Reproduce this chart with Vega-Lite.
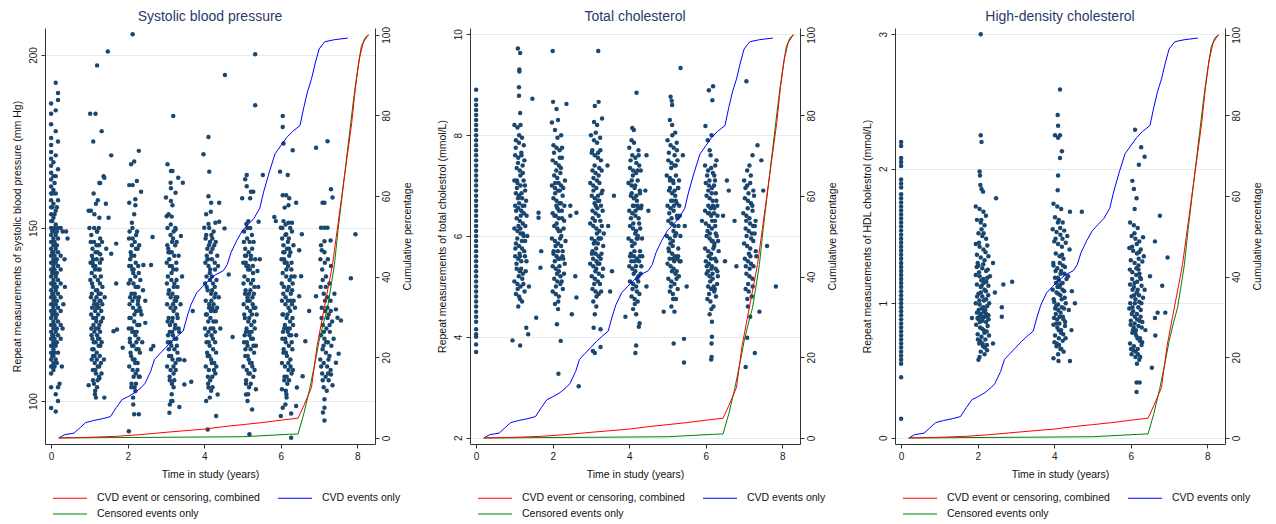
{
"$schema": "https://vega.github.io/schema/vega-lite/v6.json",
"background": "white",
"padding": {"left": 12, "top": 9, "right": 0, "bottom": 0},
"spacing": 24,
"config": {
 "font": "Liberation Sans",
 "view": {"stroke": null},
 "axis": {"labelFont": "Liberation Sans", "titleFont": "Liberation Sans", "labelFontSize": 10, "titleFontSize": 10.5, "titleFontWeight": "normal", "labelColor": "#1a1a1a", "titleColor": "#111111", "domainColor": "#333333", "tickColor": "#333333", "tickSize": 4, "grid": false, "labelFlush": false, "labelOverlap": false},
 "title": {"font": "Liberation Sans", "fontSize": 14, "fontWeight": "normal", "color": "#2b3a6b", "offset": 3, "frame": "group", "anchor": "middle"},
 "legend": {"orient": "none", "legendX": 19, "legendY": 464, "direction": "horizontal", "columns": 2, "title": null, "symbolType": "M-3.4,0H3.4", "symbolSize": 100, "symbolStrokeWidth": 1.2, "symbolFillColor": "transparent", "labelOffset": 21, "columnPadding": 15, "rowPadding": 4, "labelFontSize": 10.5, "labelFont": "Liberation Sans", "labelColor": "#111111", "padding": 0, "labelLimit": 400}
},
"datasets": {
"curves": [
{"s":"CVD events only","t":0.2,"p":0},{"s":"CVD events only","t":0.35,"p":0.8},{"s":"CVD events only","t":0.6,"p":1.2},{"s":"CVD events only","t":0.75,"p":2.5},{"s":"CVD events only","t":0.9,"p":3.8},{"s":"CVD events only","t":1.1,"p":4.3},{"s":"CVD events only","t":1.35,"p":4.8},{"s":"CVD events only","t":1.55,"p":5.3},{"s":"CVD events only","t":1.7,"p":7.5},{"s":"CVD events only","t":1.85,"p":9.5},{"s":"CVD events only","t":2.0,"p":10.2},{"s":"CVD events only","t":2.2,"p":11.3},{"s":"CVD events only","t":2.35,"p":12.5},{"s":"CVD events only","t":2.45,"p":13.5},{"s":"CVD events only","t":2.6,"p":16.5},{"s":"CVD events only","t":2.7,"p":19.5},{"s":"CVD events only","t":2.85,"p":21},{"s":"CVD events only","t":3.0,"p":22.5},{"s":"CVD events only","t":3.15,"p":24},{"s":"CVD events only","t":3.3,"p":25.3},{"s":"CVD events only","t":3.45,"p":26.5},{"s":"CVD events only","t":3.55,"p":30},{"s":"CVD events only","t":3.65,"p":33},{"s":"CVD events only","t":3.8,"p":36},{"s":"CVD events only","t":3.95,"p":37.5},{"s":"CVD events only","t":4.1,"p":39},{"s":"CVD events only","t":4.3,"p":40.5},{"s":"CVD events only","t":4.5,"p":41.5},{"s":"CVD events only","t":4.6,"p":43},{"s":"CVD events only","t":4.7,"p":46},{"s":"CVD events only","t":4.85,"p":49},{"s":"CVD events only","t":5.0,"p":51.5},{"s":"CVD events only","t":5.15,"p":53},{"s":"CVD events only","t":5.3,"p":54.5},{"s":"CVD events only","t":5.45,"p":57},{"s":"CVD events only","t":5.55,"p":61},{"s":"CVD events only","t":5.7,"p":66},{"s":"CVD events only","t":5.85,"p":70.5},{"s":"CVD events only","t":6.0,"p":72.5},{"s":"CVD events only","t":6.15,"p":74.5},{"s":"CVD events only","t":6.3,"p":76},{"s":"CVD events only","t":6.5,"p":77.5},{"s":"CVD events only","t":6.6,"p":82},{"s":"CVD events only","t":6.7,"p":86},{"s":"CVD events only","t":6.8,"p":89},{"s":"CVD events only","t":6.9,"p":93},{"s":"CVD events only","t":7.0,"p":96.5},{"s":"CVD events only","t":7.15,"p":98.3},{"s":"CVD events only","t":7.4,"p":98.8},{"s":"CVD events only","t":7.75,"p":99.2},
{"s":"Censored events only","t":0.2,"p":0},{"s":"Censored events only","t":3.5,"p":0.2},{"s":"Censored events only","t":5.0,"p":0.3},{"s":"Censored events only","t":6.2,"p":0.9},{"s":"Censored events only","t":6.45,"p":1.0},{"s":"Censored events only","t":6.6,"p":6},{"s":"Censored events only","t":6.75,"p":12},{"s":"Censored events only","t":6.9,"p":19},{"s":"Censored events only","t":7.0,"p":24},{"s":"Censored events only","t":7.1,"p":28},{"s":"Censored events only","t":7.22,"p":32.3},{"s":"Censored events only","t":7.3,"p":37},{"s":"Censored events only","t":7.4,"p":43},{"s":"Censored events only","t":7.5,"p":52},{"s":"Censored events only","t":7.6,"p":60},{"s":"Censored events only","t":7.7,"p":68},{"s":"Censored events only","t":7.8,"p":76},{"s":"Censored events only","t":7.9,"p":84},{"s":"Censored events only","t":8.0,"p":91},{"s":"Censored events only","t":8.1,"p":97},{"s":"Censored events only","t":8.2,"p":99.3},{"s":"Censored events only","t":8.3,"p":100},
{"s":"CVD event or censoring, combined","t":0.2,"p":0},{"s":"CVD event or censoring, combined","t":0.85,"p":0.1},{"s":"CVD event or censoring, combined","t":1.7,"p":0.4},{"s":"CVD event or censoring, combined","t":2.3,"p":0.8},{"s":"CVD event or censoring, combined","t":3.0,"p":1.4},{"s":"CVD event or censoring, combined","t":3.5,"p":1.8},{"s":"CVD event or censoring, combined","t":4.0,"p":2.2},{"s":"CVD event or censoring, combined","t":4.5,"p":2.8},{"s":"CVD event or censoring, combined","t":5.0,"p":3.3},{"s":"CVD event or censoring, combined","t":5.5,"p":3.8},{"s":"CVD event or censoring, combined","t":6.0,"p":4.4},{"s":"CVD event or censoring, combined","t":6.45,"p":4.9},{"s":"CVD event or censoring, combined","t":6.6,"p":8},{"s":"CVD event or censoring, combined","t":6.8,"p":12.5},{"s":"CVD event or censoring, combined","t":6.95,"p":23},{"s":"CVD event or censoring, combined","t":7.05,"p":28},{"s":"CVD event or censoring, combined","t":7.15,"p":33},{"s":"CVD event or censoring, combined","t":7.25,"p":38},{"s":"CVD event or censoring, combined","t":7.35,"p":43},{"s":"CVD event or censoring, combined","t":7.45,"p":50},{"s":"CVD event or censoring, combined","t":7.55,"p":57},{"s":"CVD event or censoring, combined","t":7.65,"p":64},{"s":"CVD event or censoring, combined","t":7.75,"p":71},{"s":"CVD event or censoring, combined","t":7.85,"p":78},{"s":"CVD event or censoring, combined","t":7.95,"p":87},{"s":"CVD event or censoring, combined","t":8.05,"p":94},{"s":"CVD event or censoring, combined","t":8.15,"p":98},{"s":"CVD event or censoring, combined","t":8.28,"p":100}
],
"sbp": [
{"t":0,"v":98},{"t":0,"v":104},{"t":0,"v":108},{"t":0,"v":110},{"t":0,"v":112},{"t":0,"v":114},{"t":0,"v":116},{"t":0,"v":118},{"t":0,"v":120},{"t":0,"v":122},{"t":0,"v":124},{"t":0,"v":126},{"t":0,"v":128},{"t":0,"v":130},{"t":0,"v":132},{"t":0,"v":134},{"t":0,"v":136},{"t":0,"v":138},{"t":0,"v":140},{"t":0,"v":142},{"t":0,"v":144},{"t":0,"v":146},{"t":0,"v":148},{"t":0,"v":150},{"t":0,"v":152},{"t":0,"v":154},{"t":0,"v":156},{"t":0,"v":158},{"t":0,"v":160},{"t":0,"v":162},{"t":0,"v":164},{"t":0,"v":166},{"t":0,"v":168},{"t":0,"v":170},{"t":0,"v":172},{"t":0,"v":174},{"t":0,"v":176},{"t":0,"v":180},{"t":0,"v":183},{"t":0,"v":186},
{"t":0.03,"v":110},{"t":0.03,"v":113},{"t":0.03,"v":116},{"t":0.03,"v":119},{"t":0.03,"v":122},{"t":0.03,"v":125},{"t":0.03,"v":128},{"t":0.03,"v":131},{"t":0.03,"v":134},{"t":0.03,"v":137},{"t":0.03,"v":140},{"t":0.03,"v":143},{"t":0.03,"v":146},{"t":0.03,"v":149},{"t":0.03,"v":152},{"t":0.03,"v":156},{"t":0.03,"v":160},
{"t":0.06,"v":109},{"t":0.06,"v":111},{"t":0.06,"v":113},{"t":0.06,"v":115},{"t":0.06,"v":117},{"t":0.06,"v":119},{"t":0.06,"v":121},{"t":0.06,"v":123},{"t":0.06,"v":125},{"t":0.06,"v":127},{"t":0.06,"v":129},{"t":0.06,"v":131},{"t":0.06,"v":133},{"t":0.06,"v":135},{"t":0.06,"v":137},{"t":0.06,"v":139},{"t":0.06,"v":141},{"t":0.06,"v":143},{"t":0.06,"v":145},{"t":0.06,"v":147},{"t":0.06,"v":149},{"t":0.06,"v":153},{"t":0.06,"v":157},{"t":0.06,"v":161},{"t":0.06,"v":165},{"t":0.06,"v":169},
{"t":0.09,"v":110},{"t":0.09,"v":114},{"t":0.09,"v":118},{"t":0.09,"v":122},{"t":0.09,"v":126},{"t":0.09,"v":130},{"t":0.09,"v":134},{"t":0.09,"v":138},{"t":0.09,"v":142},{"t":0.09,"v":146},{"t":0.09,"v":150},{"t":0.09,"v":154},{"t":0.09,"v":163},
{"t":0.12,"v":97},{"t":0.12,"v":102},{"t":0.12,"v":112},{"t":0.12,"v":116},{"t":0.12,"v":120},{"t":0.12,"v":124},{"t":0.12,"v":128},{"t":0.12,"v":132},{"t":0.12,"v":136},{"t":0.12,"v":140},{"t":0.12,"v":144},{"t":0.12,"v":148},{"t":0.12,"v":151},{"t":0.12,"v":155},{"t":0.12,"v":160},{"t":0.12,"v":165},{"t":0.12,"v":171},{"t":0.12,"v":178},{"t":0.12,"v":184},{"t":0.12,"v":192},
{"t":0.15,"v":111},{"t":0.15,"v":117},{"t":0.15,"v":121},{"t":0.15,"v":125},{"t":0.15,"v":129},{"t":0.15,"v":133},{"t":0.15,"v":137},{"t":0.15,"v":141},{"t":0.15,"v":145},{"t":0.15,"v":149},{"t":0.15,"v":156},
{"t":0.18,"v":100},{"t":0.18,"v":104},{"t":0.18,"v":114},{"t":0.18,"v":119},{"t":0.18,"v":123},{"t":0.18,"v":127},{"t":0.18,"v":131},{"t":0.18,"v":135},{"t":0.18,"v":139},{"t":0.18,"v":143},{"t":0.18,"v":147},{"t":0.18,"v":150},{"t":0.18,"v":158},{"t":0.18,"v":167},{"t":0.18,"v":175},{"t":0.18,"v":187},{"t":0.18,"v":189},
{"t":0.25,"v":118},{"t":0.25,"v":122},{"t":0.25,"v":126},{"t":0.25,"v":130},{"t":0.25,"v":134},{"t":0.25,"v":138},{"t":0.25,"v":142},{"t":0.25,"v":150},
{"t":0.3,"v":149},{"t":0.35,"v":141},{"t":0.39,"v":149},{"t":0.43,"v":147},{"t":0.32,"v":128},{"t":0.28,"v":110},{"t":0.22,"v":105},{"t":0.3,"v":121},{"t":0.36,"v":133},
{"t":1.05,"v":148},{"t":1.12,"v":146},{"t":1.2,"v":149},{"t":1.28,"v":147},{"t":1.08,"v":144},{"t":1.16,"v":143},{"t":1.25,"v":145},{"t":1.32,"v":141},{"t":1.03,"v":140},{"t":1.1,"v":139},{"t":1.19,"v":141},{"t":1.27,"v":138},{"t":1.06,"v":137},{"t":1.14,"v":136},{"t":1.22,"v":135},{"t":1.3,"v":136},{"t":1.09,"v":133},{"t":1.17,"v":132},{"t":1.24,"v":131},{"t":1.34,"v":133},{"t":1.04,"v":130},{"t":1.13,"v":129},{"t":1.21,"v":128},{"t":1.29,"v":129},{"t":1.07,"v":127},{"t":1.15,"v":126},{"t":1.23,"v":125},{"t":1.31,"v":126},{"t":1.1,"v":124},{"t":1.18,"v":123},{"t":1.26,"v":122},{"t":1.05,"v":121},{"t":1.13,"v":120},{"t":1.2,"v":119},{"t":1.28,"v":120},{"t":1.08,"v":118},{"t":1.16,"v":117},{"t":1.24,"v":116},{"t":1.32,"v":117},{"t":1.11,"v":115},{"t":1.19,"v":114},{"t":1.27,"v":113},{"t":1.06,"v":112},{"t":1.14,"v":111},{"t":1.22,"v":110},{"t":1.3,"v":111},{"t":1.09,"v":109},{"t":1.17,"v":108},{"t":1.25,"v":107},{"t":1.12,"v":105},{"t":1.2,"v":104},{"t":1.15,"v":103},{"t":1.1,"v":113},{"t":1.18,"v":127},{"t":1.23,"v":138},{"t":1.07,"v":134},{"t":1.26,"v":118},{"t":1.35,"v":124},{"t":1.4,"v":130},{"t":1.38,"v":112},
{"t":1.035,"v":146},{"t":1.095,"v":141},{"t":1.155,"v":139},{"t":1.215,"v":143},{"t":1.275,"v":134},{"t":1.065,"v":131},{"t":1.125,"v":128},{"t":1.185,"v":130},{"t":1.245,"v":127},{"t":1.305,"v":123},{"t":1.045,"v":125},{"t":1.105,"v":122},{"t":1.165,"v":121},{"t":1.225,"v":118},{"t":1.285,"v":116},{"t":1.075,"v":115},{"t":1.135,"v":113},{"t":1.195,"v":112},{"t":1.255,"v":110},{"t":1.315,"v":108},{"t":1.055,"v":119},{"t":1.115,"v":117},{"t":1.175,"v":124},{"t":1.235,"v":121},{"t":1.295,"v":131},{"t":1.085,"v":140},{"t":1.145,"v":138},{"t":1.205,"v":132},{"t":1.265,"v":129},{"t":1.025,"v":135},{"t":1.335,"v":128},{"t":1.095,"v":106},{"t":1.155,"v":109},{"t":1.215,"v":106},{"t":1.185,"v":145},{"t":1.125,"v":150},{"t":1.245,"v":150},{"t":1.065,"v":142},{"t":1.275,"v":140},{"t":1.145,"v":102},
{"t":1.2,"v":197},{"t":1.48,"v":201},{"t":1.02,"v":183},{"t":1.16,"v":183},{"t":1.32,"v":178},{"t":1.1,"v":175},{"t":1.57,"v":171},{"t":1.39,"v":164.5},{"t":1.26,"v":163},{"t":1.04,"v":155},{"t":0.98,"v":155},{"t":1.11,"v":160},{"t":1.28,"v":163},{"t":1.37,"v":165},{"t":1.22,"v":158},{"t":1.43,"v":157},{"t":1.17,"v":157},{"t":1.13,"v":154},{"t":1.26,"v":153},{"t":1.5,"v":153},{"t":1.0,"v":150},{"t":1.7,"v":145.5},{"t":1.57,"v":142.6},{"t":1.28,"v":142.4},{"t":1.44,"v":144},{"t":1.2,"v":149},{"t":1.33,"v":146},{"t":1.17,"v":101},{"t":1.39,"v":101},{"t":0.98,"v":104.6},{"t":1.26,"v":106.6},{"t":1.72,"v":120.7},{"t":1.63,"v":120.2},{"t":1.7,"v":134},
{"t":2.05,"v":149},{"t":2.13,"v":147},{"t":2.22,"v":148},{"t":2.3,"v":145},{"t":2.08,"v":143},{"t":2.17,"v":142},{"t":2.26,"v":144},{"t":2.04,"v":139},{"t":2.12,"v":138},{"t":2.21,"v":140},{"t":2.29,"v":137},{"t":2.07,"v":135},{"t":2.15,"v":134},{"t":2.24,"v":133},{"t":2.33,"v":135},{"t":2.1,"v":131},{"t":2.19,"v":130},{"t":2.27,"v":129},{"t":2.05,"v":128},{"t":2.14,"v":127},{"t":2.22,"v":126},{"t":2.31,"v":127},{"t":2.08,"v":124},{"t":2.17,"v":123},{"t":2.25,"v":122},{"t":2.03,"v":121},{"t":2.12,"v":120},{"t":2.2,"v":119},{"t":2.28,"v":118},{"t":2.06,"v":117},{"t":2.15,"v":116},{"t":2.23,"v":115},{"t":2.32,"v":114},{"t":2.09,"v":113},{"t":2.18,"v":112},{"t":2.26,"v":111},{"t":2.04,"v":110},{"t":2.13,"v":109},{"t":2.21,"v":108},{"t":2.29,"v":107},{"t":2.1,"v":105},{"t":2.18,"v":104},{"t":2.14,"v":101},{"t":2.36,"v":125},{"t":2.4,"v":132},{"t":2.38,"v":117},{"t":2.2,"v":136},{"t":2.11,"v":145},
{"t":2.035,"v":147},{"t":2.095,"v":142},{"t":2.155,"v":138},{"t":2.215,"v":144},{"t":2.275,"v":133},{"t":2.065,"v":130},{"t":2.125,"v":129},{"t":2.185,"v":131},{"t":2.245,"v":126},{"t":2.305,"v":122},{"t":2.045,"v":124},{"t":2.105,"v":121},{"t":2.165,"v":120},{"t":2.225,"v":117},{"t":2.285,"v":115},{"t":2.075,"v":114},{"t":2.135,"v":112},{"t":2.195,"v":111},{"t":2.255,"v":109},{"t":2.315,"v":107},{"t":2.055,"v":118},{"t":2.115,"v":116},{"t":2.175,"v":125},{"t":2.235,"v":120},{"t":2.295,"v":130},{"t":2.085,"v":139},{"t":2.145,"v":137},{"t":2.205,"v":133},{"t":2.265,"v":128},{"t":2.025,"v":134},{"t":2.335,"v":126},{"t":2.095,"v":104},{"t":2.155,"v":107},{"t":2.215,"v":105},{"t":2.185,"v":146},{"t":2.125,"v":150},{"t":2.245,"v":149},{"t":2.065,"v":141},{"t":2.275,"v":139},{"t":2.145,"v":99},
{"t":2.13,"v":206},{"t":2.29,"v":172.3},{"t":2.17,"v":169.2},{"t":2.09,"v":168.4},{"t":2.24,"v":163.6},{"t":2.04,"v":162.4},{"t":2.13,"v":162.4},{"t":2.35,"v":160.5},{"t":2.2,"v":158.3},{"t":2.04,"v":157.3},{"t":2.2,"v":156.6},{"t":2.17,"v":154},{"t":2.11,"v":151.5},{"t":2.65,"v":147.4},{"t":2.03,"v":91.3},{"t":2.17,"v":96.2},{"t":2.29,"v":96.2},{"t":2.2,"v":102.9},{"t":2.41,"v":139.3},{"t":2.61,"v":139.3},{"t":1.87,"v":115.4},{"t":2.61,"v":115},{"t":2.46,"v":129},{"t":2.46,"v":122.6},
{"t":3.04,"v":150},{"t":3.12,"v":148},{"t":3.2,"v":149},{"t":3.28,"v":146},{"t":3.06,"v":144},{"t":3.15,"v":143},{"t":3.24,"v":145},{"t":3.33,"v":142},{"t":3.02,"v":140},{"t":3.1,"v":139},{"t":3.19,"v":138},{"t":3.27,"v":140},{"t":3.05,"v":136},{"t":3.14,"v":135},{"t":3.22,"v":134},{"t":3.3,"v":133},{"t":3.08,"v":132},{"t":3.17,"v":131},{"t":3.25,"v":130},{"t":3.03,"v":128},{"t":3.12,"v":127},{"t":3.2,"v":126},{"t":3.29,"v":125},{"t":3.07,"v":124},{"t":3.16,"v":123},{"t":3.24,"v":122},{"t":3.33,"v":121},{"t":3.1,"v":120},{"t":3.18,"v":119},{"t":3.27,"v":118},{"t":3.05,"v":117},{"t":3.14,"v":116},{"t":3.22,"v":115},{"t":3.3,"v":114},{"t":3.08,"v":113},{"t":3.17,"v":112},{"t":3.25,"v":111},{"t":3.03,"v":110},{"t":3.12,"v":109},{"t":3.2,"v":108},{"t":3.1,"v":106},{"t":3.2,"v":104},{"t":3.15,"v":102},{"t":3.38,"v":128},{"t":3.42,"v":136},{"t":3.36,"v":112},{"t":3.16,"v":146},{"t":3.23,"v":129},
{"t":3.035,"v":145},{"t":3.095,"v":143},{"t":3.155,"v":139},{"t":3.215,"v":142},{"t":3.275,"v":135},{"t":3.065,"v":131},{"t":3.125,"v":130},{"t":3.185,"v":128},{"t":3.245,"v":127},{"t":3.305,"v":124},{"t":3.045,"v":123},{"t":3.105,"v":122},{"t":3.165,"v":120},{"t":3.225,"v":118},{"t":3.285,"v":116},{"t":3.075,"v":115},{"t":3.135,"v":113},{"t":3.195,"v":110},{"t":3.255,"v":109},{"t":3.315,"v":112},{"t":3.055,"v":119},{"t":3.115,"v":117},{"t":3.175,"v":124},{"t":3.235,"v":121},{"t":3.295,"v":130},{"t":3.085,"v":141},{"t":3.145,"v":137},{"t":3.205,"v":133},{"t":3.265,"v":129},{"t":3.025,"v":134},{"t":3.345,"v":120},{"t":3.095,"v":107},{"t":3.155,"v":105},{"t":3.215,"v":106},{"t":3.185,"v":147},{"t":3.125,"v":151},{"t":3.245,"v":150},{"t":3.065,"v":143},{"t":3.275,"v":138},{"t":3.135,"v":100},
{"t":3.19,"v":182.4},{"t":3.04,"v":168.4},{"t":3.13,"v":166.5},{"t":3.17,"v":166.5},{"t":3.44,"v":163.1},{"t":3.32,"v":164.5},{"t":3.12,"v":163.1},{"t":3.13,"v":161.5},{"t":3.25,"v":160.2},{"t":3.0,"v":158.8},{"t":3.13,"v":157.8},{"t":3.17,"v":156.6},{"t":3.07,"v":154},{"t":3.02,"v":153.4},{"t":3.15,"v":153.3},{"t":3.39,"v":147.7},{"t":3.25,"v":149.6},{"t":3.09,"v":96.6},{"t":3.1,"v":99},{"t":3.35,"v":98.3},{"t":3.17,"v":100},{"t":3.66,"v":105.6},{"t":3.48,"v":104.8},{"t":3.7,"v":126},{"t":3.48,"v":111.8},{"t":2.67,"v":115.9},
{"t":4.05,"v":148},{"t":4.13,"v":150},{"t":4.21,"v":147},{"t":4.3,"v":146},{"t":4.08,"v":144},{"t":4.17,"v":143},{"t":4.26,"v":145},{"t":4.34,"v":142},{"t":4.03,"v":140},{"t":4.11,"v":139},{"t":4.2,"v":141},{"t":4.28,"v":138},{"t":4.06,"v":136},{"t":4.15,"v":135},{"t":4.23,"v":134},{"t":4.32,"v":135},{"t":4.09,"v":132},{"t":4.18,"v":131},{"t":4.27,"v":130},{"t":4.04,"v":129},{"t":4.13,"v":128},{"t":4.21,"v":127},{"t":4.3,"v":126},{"t":4.07,"v":125},{"t":4.16,"v":124},{"t":4.24,"v":123},{"t":4.02,"v":121},{"t":4.11,"v":120},{"t":4.19,"v":119},{"t":4.28,"v":120},{"t":4.06,"v":117},{"t":4.14,"v":116},{"t":4.23,"v":115},{"t":4.31,"v":114},{"t":4.09,"v":113},{"t":4.18,"v":112},{"t":4.26,"v":111},{"t":4.04,"v":110},{"t":4.12,"v":109},{"t":4.21,"v":107},{"t":4.29,"v":108},{"t":4.1,"v":105},{"t":4.18,"v":103},{"t":4.38,"v":130},{"t":4.42,"v":121},{"t":4.36,"v":139},{"t":4.2,"v":136},{"t":4.15,"v":146},
{"t":4.035,"v":147},{"t":4.095,"v":141},{"t":4.155,"v":138},{"t":4.215,"v":144},{"t":4.275,"v":133},{"t":4.065,"v":133},{"t":4.125,"v":127},{"t":4.185,"v":129},{"t":4.245,"v":128},{"t":4.305,"v":123},{"t":4.045,"v":125},{"t":4.105,"v":123},{"t":4.165,"v":121},{"t":4.225,"v":118},{"t":4.285,"v":117},{"t":4.075,"v":114},{"t":4.135,"v":113},{"t":4.195,"v":111},{"t":4.255,"v":109},{"t":4.315,"v":110},{"t":4.055,"v":119},{"t":4.115,"v":117},{"t":4.175,"v":126},{"t":4.235,"v":121},{"t":4.295,"v":131},{"t":4.085,"v":141},{"t":4.145,"v":137},{"t":4.205,"v":132},{"t":4.265,"v":126},{"t":4.025,"v":134},{"t":4.335,"v":127},{"t":4.095,"v":107},{"t":4.155,"v":106},{"t":4.215,"v":104},{"t":4.185,"v":148},{"t":4.125,"v":145},{"t":4.245,"v":149},{"t":4.065,"v":142},{"t":4.275,"v":140},{"t":4.145,"v":101},
{"t":4.54,"v":194.2},{"t":4.11,"v":176.3},{"t":3.98,"v":171.3},{"t":4.13,"v":166.3},{"t":4.11,"v":159.2},{"t":4.18,"v":157.3},{"t":4.39,"v":157.3},{"t":4.05,"v":154},{"t":4.17,"v":154.7},{"t":4.0,"v":150.1},{"t":4.11,"v":151.2},{"t":4.29,"v":151.5},{"t":4.39,"v":151.8},{"t":4.53,"v":149.9},{"t":4.05,"v":100},{"t":4.09,"v":91.8},{"t":4.31,"v":95.7},{"t":4.11,"v":103.9},{"t":4.35,"v":101.9},{"t":4.74,"v":118.5},{"t":4.64,"v":136.6},
{"t":5.04,"v":149},{"t":5.12,"v":147},{"t":5.2,"v":150},{"t":5.29,"v":146},{"t":5.07,"v":144},{"t":5.16,"v":143},{"t":5.25,"v":144},{"t":5.33,"v":141},{"t":5.02,"v":140},{"t":5.1,"v":139},{"t":5.19,"v":138},{"t":5.27,"v":139},{"t":5.05,"v":136},{"t":5.14,"v":135},{"t":5.22,"v":134},{"t":5.31,"v":133},{"t":5.08,"v":132},{"t":5.17,"v":131},{"t":5.26,"v":130},{"t":5.03,"v":128},{"t":5.12,"v":127},{"t":5.2,"v":126},{"t":5.29,"v":127},{"t":5.06,"v":124},{"t":5.15,"v":123},{"t":5.23,"v":122},{"t":5.32,"v":121},{"t":5.09,"v":120},{"t":5.18,"v":119},{"t":5.27,"v":118},{"t":5.04,"v":117},{"t":5.13,"v":116},{"t":5.21,"v":115},{"t":5.3,"v":114},{"t":5.07,"v":113},{"t":5.16,"v":112},{"t":5.24,"v":111},{"t":5.02,"v":110},{"t":5.11,"v":109},{"t":5.19,"v":108},{"t":5.28,"v":107},{"t":5.09,"v":105},{"t":5.17,"v":104},{"t":5.37,"v":125},{"t":5.41,"v":133},{"t":5.35,"v":116},{"t":5.22,"v":142},{"t":5.13,"v":130},
{"t":5.035,"v":146},{"t":5.095,"v":142},{"t":5.155,"v":139},{"t":5.215,"v":141},{"t":5.275,"v":135},{"t":5.065,"v":131},{"t":5.125,"v":129},{"t":5.185,"v":129},{"t":5.245,"v":125},{"t":5.305,"v":123},{"t":5.045,"v":125},{"t":5.105,"v":121},{"t":5.165,"v":120},{"t":5.225,"v":118},{"t":5.285,"v":116},{"t":5.075,"v":115},{"t":5.135,"v":113},{"t":5.195,"v":111},{"t":5.255,"v":110},{"t":5.315,"v":109},{"t":5.055,"v":119},{"t":5.115,"v":117},{"t":5.175,"v":124},{"t":5.235,"v":120},{"t":5.295,"v":131},{"t":5.085,"v":140},{"t":5.145,"v":138},{"t":5.205,"v":132},{"t":5.265,"v":128},{"t":5.025,"v":134},{"t":5.335,"v":127},{"t":5.095,"v":106},{"t":5.155,"v":108},{"t":5.215,"v":105},{"t":5.185,"v":146},{"t":5.125,"v":150},{"t":5.245,"v":148},{"t":5.065,"v":142},{"t":5.275,"v":137},{"t":5.145,"v":102},
{"t":5.33,"v":200.2},{"t":5.33,"v":185.5},{"t":5.11,"v":165.3},{"t":5.22,"v":160.5},{"t":5.28,"v":160.5},{"t":4.99,"v":158.6},{"t":5.2,"v":158.6},{"t":5.07,"v":164.1},{"t":5.11,"v":162.1},{"t":5.53,"v":165.3},{"t":5.15,"v":152},{"t":5.1,"v":151.2},{"t":5.42,"v":151.8},{"t":5.09,"v":101.9},{"t":5.13,"v":100},{"t":5.25,"v":97.6},{"t":5.18,"v":90.4},{"t":5.35,"v":103.4},{"t":5.39,"v":137.6},{"t":5.45,"v":141},
{"t":6.04,"v":150},{"t":6.12,"v":148},{"t":6.21,"v":147},{"t":6.29,"v":149},{"t":6.07,"v":145},{"t":6.16,"v":144},{"t":6.25,"v":143},{"t":6.33,"v":145},{"t":6.02,"v":141},{"t":6.1,"v":140},{"t":6.19,"v":139},{"t":6.28,"v":140},{"t":6.05,"v":137},{"t":6.14,"v":136},{"t":6.23,"v":135},{"t":6.31,"v":134},{"t":6.08,"v":133},{"t":6.17,"v":132},{"t":6.26,"v":131},{"t":6.03,"v":129},{"t":6.12,"v":128},{"t":6.2,"v":127},{"t":6.29,"v":128},{"t":6.06,"v":125},{"t":6.15,"v":124},{"t":6.24,"v":123},{"t":6.32,"v":122},{"t":6.09,"v":121},{"t":6.18,"v":120},{"t":6.27,"v":119},{"t":6.04,"v":118},{"t":6.13,"v":117},{"t":6.21,"v":116},{"t":6.3,"v":115},{"t":6.07,"v":114},{"t":6.16,"v":113},{"t":6.25,"v":112},{"t":6.03,"v":111},{"t":6.11,"v":110},{"t":6.2,"v":109},{"t":6.28,"v":108},{"t":6.09,"v":106},{"t":6.17,"v":105},{"t":6.13,"v":103},{"t":6.37,"v":127},{"t":6.4,"v":119},{"t":6.36,"v":136},{"t":6.22,"v":142},
{"t":6.035,"v":147},{"t":6.095,"v":143},{"t":6.155,"v":140},{"t":6.215,"v":144},{"t":6.275,"v":136},{"t":6.065,"v":131},{"t":6.125,"v":130},{"t":6.185,"v":129},{"t":6.245,"v":126},{"t":6.305,"v":124},{"t":6.045,"v":125},{"t":6.105,"v":122},{"t":6.165,"v":121},{"t":6.225,"v":119},{"t":6.285,"v":117},{"t":6.075,"v":115},{"t":6.135,"v":114},{"t":6.195,"v":111},{"t":6.255,"v":110},{"t":6.315,"v":109},{"t":6.055,"v":120},{"t":6.115,"v":118},{"t":6.175,"v":125},{"t":6.235,"v":121},{"t":6.295,"v":132},{"t":6.085,"v":141},{"t":6.145,"v":138},{"t":6.205,"v":133},{"t":6.265,"v":129},{"t":6.025,"v":134},{"t":6.335,"v":129},{"t":6.095,"v":107},{"t":6.155,"v":107},{"t":6.215,"v":106},{"t":6.185,"v":146},{"t":6.125,"v":151},{"t":6.245,"v":150},{"t":6.065,"v":143},{"t":6.275,"v":138},{"t":6.145,"v":102},
{"t":6.05,"v":182.4},{"t":6.05,"v":179.2},{"t":6.07,"v":174.4},{"t":6.31,"v":172.5},{"t":5.98,"v":166.3},{"t":6.18,"v":165.3},{"t":5.83,"v":153.2},{"t":6.05,"v":159.5},{"t":6.14,"v":159.5},{"t":6.22,"v":158.6},{"t":6.4,"v":157.3},{"t":6.1,"v":155.9},{"t":6.2,"v":156.6},{"t":6.07,"v":152},{"t":6.2,"v":151.5},{"t":6.29,"v":151.5},{"t":6.0,"v":150.1},{"t":6.14,"v":148.2},{"t":6.55,"v":148.2},{"t":5.87,"v":152},{"t":6.48,"v":143.6},{"t":6.05,"v":98.1},{"t":6.12,"v":99},{"t":6.03,"v":103.4},{"t":6.15,"v":101},{"t":6.0,"v":95.7},{"t":6.27,"v":96.4},{"t":6.4,"v":98.6},{"t":6.27,"v":89.4},{"t":6.42,"v":103.9},{"t":6.64,"v":117.3},{"t":6.57,"v":107.2},{"t":6.48,"v":130.3},{"t":6.53,"v":136.1},
{"t":7.05,"v":145},{"t":7.14,"v":143},{"t":7.23,"v":141},{"t":7.31,"v":139},{"t":7.08,"v":138},{"t":7.18,"v":136},{"t":7.27,"v":134},{"t":7.04,"v":133},{"t":7.12,"v":131},{"t":7.21,"v":130},{"t":7.3,"v":129},{"t":7.07,"v":127},{"t":7.16,"v":126},{"t":7.25,"v":125},{"t":7.34,"v":123},{"t":7.1,"v":122},{"t":7.19,"v":121},{"t":7.28,"v":120},{"t":7.05,"v":119},{"t":7.14,"v":118},{"t":7.23,"v":117},{"t":7.32,"v":116},{"t":7.09,"v":115},{"t":7.18,"v":114},{"t":7.27,"v":113},{"t":7.03,"v":112},{"t":7.12,"v":111},{"t":7.21,"v":110},{"t":7.3,"v":109},{"t":7.08,"v":108},{"t":7.17,"v":107},{"t":7.25,"v":106},{"t":7.12,"v":104},{"t":7.2,"v":103},{"t":7.38,"v":118},{"t":7.4,"v":131},{"t":7.15,"v":140},{"t":7.22,"v":124},
{"t":7.035,"v":141},{"t":7.095,"v":135},{"t":7.155,"v":129},{"t":7.215,"v":127},{"t":7.275,"v":122},{"t":7.065,"v":124},{"t":7.125,"v":120},{"t":7.185,"v":117},{"t":7.245,"v":112},{"t":7.305,"v":126},{"t":7.055,"v":110},{"t":7.115,"v":116},{"t":7.175,"v":133},{"t":7.235,"v":108},{"t":7.095,"v":106},
{"t":7.22,"v":175.1},{"t":6.92,"v":173.2},{"t":7.31,"v":161.2},{"t":7.35,"v":158.8},{"t":7.09,"v":157.3},{"t":7.14,"v":157.3},{"t":7.14,"v":146.2},{"t":7.07,"v":143.6},{"t":7.3,"v":146.4},{"t":7.05,"v":150.1},{"t":7.14,"v":150.1},{"t":7.22,"v":150.1},{"t":7.95,"v":148.2},{"t":7.14,"v":100.5},{"t":7.14,"v":98.1},{"t":7.1,"v":96.7},{"t":7.14,"v":94.4},{"t":7.35,"v":104.6},{"t":7.31,"v":107.7},{"t":7.51,"v":113.7},{"t":7.44,"v":111.1},{"t":7.57,"v":123.3},{"t":7.48,"v":124.1},{"t":7.44,"v":126.5},{"t":6.74,"v":126},{"t":6.92,"v":130.3},{"t":7.83,"v":135.5}
],
"tc": [
{"t":0,"v":3.7},{"t":0,"v":3.85},{"t":0,"v":4.0},{"t":0,"v":4.05},{"t":0,"v":4.15},{"t":0,"v":4.3},{"t":0,"v":4.4},{"t":0,"v":4.5},{"t":0,"v":4.6},{"t":0,"v":4.7},{"t":0,"v":4.8},{"t":0,"v":4.9},{"t":0,"v":5.0},{"t":0,"v":5.1},{"t":0,"v":5.2},{"t":0,"v":5.3},{"t":0,"v":5.4},{"t":0,"v":5.5},{"t":0,"v":5.6},{"t":0,"v":5.7},{"t":0,"v":5.8},{"t":0,"v":5.9},{"t":0,"v":6.0},{"t":0,"v":6.1},{"t":0,"v":6.2},{"t":0,"v":6.3},{"t":0,"v":6.4},{"t":0,"v":6.5},{"t":0,"v":6.6},{"t":0,"v":6.7},{"t":0,"v":6.8},{"t":0,"v":6.9},{"t":0,"v":7.0},{"t":0,"v":7.1},{"t":0,"v":7.2},{"t":0,"v":7.3},{"t":0,"v":7.4},{"t":0,"v":7.5},{"t":0,"v":7.6},{"t":0,"v":7.7},{"t":0,"v":7.8},{"t":0,"v":7.9},{"t":0,"v":8.0},{"t":0,"v":8.1},{"t":0,"v":8.2},{"t":0,"v":8.3},{"t":0,"v":8.4},{"t":0,"v":8.5},{"t":0,"v":8.6},{"t":0,"v":8.7},{"t":0,"v":8.9},
{"t":1.0,"v":8.2},{"t":1.08,"v":8.15},{"t":1.16,"v":8.2},{"t":1.04,"v":7.9},{"t":1.12,"v":7.85},{"t":1.2,"v":7.95},{"t":1.02,"v":7.6},{"t":1.1,"v":7.55},{"t":1.18,"v":7.65},{"t":1.26,"v":7.5},{"t":1.06,"v":7.35},{"t":1.14,"v":7.3},{"t":1.22,"v":7.25},{"t":1.0,"v":7.1},{"t":1.08,"v":7.05},{"t":1.16,"v":7.0},{"t":1.24,"v":7.1},{"t":1.04,"v":6.85},{"t":1.12,"v":6.8},{"t":1.2,"v":6.75},{"t":1.28,"v":6.9},{"t":1.02,"v":6.6},{"t":1.1,"v":6.55},{"t":1.18,"v":6.5},{"t":1.26,"v":6.6},{"t":1.06,"v":6.35},{"t":1.14,"v":6.3},{"t":1.22,"v":6.25},{"t":1.0,"v":6.15},{"t":1.08,"v":6.1},{"t":1.16,"v":6.05},{"t":1.24,"v":6.0},{"t":1.04,"v":5.85},{"t":1.12,"v":5.8},{"t":1.2,"v":5.75},{"t":1.28,"v":5.9},{"t":1.02,"v":5.6},{"t":1.1,"v":5.55},{"t":1.18,"v":5.5},{"t":1.06,"v":5.35},{"t":1.14,"v":5.3},{"t":1.22,"v":5.25},{"t":1.0,"v":5.1},{"t":1.08,"v":5.05},{"t":1.16,"v":5.0},{"t":1.04,"v":4.85},{"t":1.12,"v":4.8},{"t":1.2,"v":4.7},{"t":1.1,"v":4.6},{"t":1.32,"v":6.4},
{"t":1.035,"v":7.75},{"t":1.095,"v":7.45},{"t":1.155,"v":7.2},{"t":1.215,"v":7.4},{"t":1.275,"v":7.0},{"t":1.065,"v":6.95},{"t":1.125,"v":6.65},{"t":1.185,"v":6.85},{"t":1.245,"v":6.45},{"t":1.305,"v":6.7},{"t":1.045,"v":6.5},{"t":1.105,"v":6.2},{"t":1.165,"v":6.4},{"t":1.225,"v":6.05},{"t":1.285,"v":6.2},{"t":1.075,"v":5.95},{"t":1.135,"v":5.65},{"t":1.195,"v":5.9},{"t":1.255,"v":5.7},{"t":1.315,"v":5.5},{"t":1.055,"v":5.45},{"t":1.115,"v":5.2},{"t":1.175,"v":5.35},{"t":1.235,"v":5.05},{"t":1.295,"v":5.3},{"t":1.085,"v":4.95},{"t":1.145,"v":4.75},{"t":1.205,"v":5.15},{"t":1.265,"v":4.9},{"t":1.025,"v":5.75},{"t":1.335,"v":6.0},{"t":1.095,"v":6.75},{"t":1.155,"v":6.15},{"t":1.215,"v":6.6},{"t":1.185,"v":7.6},{"t":1.125,"v":8.0},{"t":1.245,"v":7.8},{"t":1.065,"v":7.1},{"t":1.275,"v":5.6},{"t":1.145,"v":5.6},
{"t":1.09,"v":9.72},{"t":1.15,"v":9.63},{"t":1.13,"v":9.3},{"t":1.13,"v":9.26},{"t":1.12,"v":8.95},{"t":1.12,"v":8.78},{"t":1.47,"v":8.72},{"t":1.15,"v":8.44},{"t":0.95,"v":3.93},{"t":1.15,"v":3.83},{"t":1.31,"v":4.18},{"t":1.36,"v":4.05},{"t":1.57,"v":4.38},{"t":1.63,"v":6.46},{"t":1.63,"v":6.36},{"t":1.7,"v":5.7},{"t":1.68,"v":5.37},{"t":1.38,"v":5.0},
{"t":1.98,"v":8.25},{"t":2.06,"v":8.1},{"t":2.14,"v":8.3},{"t":2.22,"v":8.0},{"t":2.02,"v":7.8},{"t":2.1,"v":7.75},{"t":2.18,"v":7.7},{"t":2.0,"v":7.5},{"t":2.08,"v":7.45},{"t":2.16,"v":7.4},{"t":2.24,"v":7.55},{"t":2.04,"v":7.2},{"t":2.12,"v":7.15},{"t":2.2,"v":7.25},{"t":1.98,"v":7.0},{"t":2.06,"v":6.95},{"t":2.14,"v":6.9},{"t":2.22,"v":7.0},{"t":2.02,"v":6.75},{"t":2.1,"v":6.7},{"t":2.18,"v":6.65},{"t":2.26,"v":6.8},{"t":2.0,"v":6.45},{"t":2.08,"v":6.4},{"t":2.16,"v":6.35},{"t":2.24,"v":6.5},{"t":2.04,"v":6.2},{"t":2.12,"v":6.15},{"t":2.2,"v":6.1},{"t":1.98,"v":5.95},{"t":2.06,"v":5.9},{"t":2.14,"v":5.85},{"t":2.22,"v":5.8},{"t":2.02,"v":5.65},{"t":2.1,"v":5.6},{"t":2.18,"v":5.55},{"t":2.26,"v":5.7},{"t":2.0,"v":5.4},{"t":2.08,"v":5.35},{"t":2.16,"v":5.3},{"t":2.04,"v":5.15},{"t":2.12,"v":5.1},{"t":2.2,"v":5.05},{"t":2.0,"v":4.9},{"t":2.08,"v":4.85},{"t":2.16,"v":4.8},{"t":2.06,"v":4.65},{"t":2.14,"v":4.55},{"t":2.3,"v":6.3},{"t":2.32,"v":7.1},
{"t":2.035,"v":7.65},{"t":2.095,"v":7.3},{"t":2.155,"v":7.05},{"t":2.215,"v":7.35},{"t":2.275,"v":6.95},{"t":2.065,"v":6.85},{"t":2.125,"v":6.55},{"t":2.185,"v":6.9},{"t":2.245,"v":6.35},{"t":2.305,"v":6.6},{"t":2.045,"v":6.4},{"t":2.105,"v":6.25},{"t":2.165,"v":6.5},{"t":2.225,"v":6.0},{"t":2.285,"v":6.15},{"t":2.075,"v":5.8},{"t":2.135,"v":5.7},{"t":2.195,"v":5.95},{"t":2.255,"v":5.6},{"t":2.315,"v":5.45},{"t":2.055,"v":5.5},{"t":2.115,"v":5.25},{"t":2.175,"v":5.4},{"t":2.235,"v":5.1},{"t":2.295,"v":5.25},{"t":2.085,"v":5.0},{"t":2.145,"v":4.7},{"t":2.205,"v":5.2},{"t":2.265,"v":4.95},{"t":2.025,"v":5.7},{"t":2.335,"v":5.9},{"t":2.095,"v":6.6},{"t":2.155,"v":6.1},{"t":2.215,"v":6.65},{"t":2.185,"v":7.55},{"t":2.125,"v":7.95},{"t":2.245,"v":7.75},{"t":2.065,"v":7.05},{"t":2.275,"v":5.55},{"t":2.145,"v":5.55},
{"t":2.0,"v":9.67},{"t":2.01,"v":8.66},{"t":2.36,"v":8.62},{"t":2.1,"v":8.52},{"t":2.15,"v":3.27},{"t":2.21,"v":3.92},{"t":2.11,"v":4.25},{"t":2.68,"v":3.02},{"t":2.62,"v":6.46},{"t":2.46,"v":6.6},{"t":2.46,"v":6.4},{"t":2.59,"v":5.2},{"t":2.62,"v":4.78},{"t":2.5,"v":4.45},
{"t":3.0,"v":8.0},{"t":3.08,"v":7.9},{"t":3.16,"v":7.85},{"t":3.24,"v":7.95},{"t":3.02,"v":7.65},{"t":3.1,"v":7.6},{"t":3.18,"v":7.55},{"t":3.26,"v":7.5},{"t":3.04,"v":7.3},{"t":3.12,"v":7.25},{"t":3.2,"v":7.2},{"t":2.98,"v":7.05},{"t":3.06,"v":7.0},{"t":3.14,"v":6.95},{"t":3.22,"v":7.05},{"t":3.02,"v":6.8},{"t":3.1,"v":6.75},{"t":3.18,"v":6.7},{"t":3.26,"v":6.6},{"t":3.04,"v":6.5},{"t":3.12,"v":6.45},{"t":3.2,"v":6.4},{"t":2.98,"v":6.25},{"t":3.06,"v":6.2},{"t":3.14,"v":6.15},{"t":3.22,"v":6.1},{"t":3.02,"v":5.95},{"t":3.1,"v":5.9},{"t":3.18,"v":5.85},{"t":3.26,"v":5.95},{"t":3.04,"v":5.7},{"t":3.12,"v":5.65},{"t":3.2,"v":5.6},{"t":2.98,"v":5.45},{"t":3.06,"v":5.4},{"t":3.14,"v":5.35},{"t":3.22,"v":5.45},{"t":3.02,"v":5.2},{"t":3.1,"v":5.15},{"t":3.18,"v":5.1},{"t":3.04,"v":4.95},{"t":3.12,"v":4.9},{"t":3.2,"v":4.85},{"t":3.06,"v":4.7},{"t":3.14,"v":4.6},{"t":3.1,"v":4.45},{"t":3.3,"v":6.9},{"t":3.32,"v":5.8},{"t":3.28,"v":7.3},{"t":3.16,"v":8.2},
{"t":3.035,"v":7.7},{"t":3.095,"v":7.4},{"t":3.155,"v":7.1},{"t":3.215,"v":7.35},{"t":3.275,"v":6.85},{"t":3.065,"v":6.9},{"t":3.125,"v":6.6},{"t":3.185,"v":6.8},{"t":3.245,"v":6.3},{"t":3.305,"v":6.5},{"t":3.045,"v":6.35},{"t":3.105,"v":6.3},{"t":3.165,"v":6.55},{"t":3.225,"v":5.95},{"t":3.285,"v":6.2},{"t":3.075,"v":5.85},{"t":3.135,"v":5.75},{"t":3.195,"v":5.95},{"t":3.255,"v":5.55},{"t":3.315,"v":5.35},{"t":3.055,"v":5.55},{"t":3.115,"v":5.3},{"t":3.175,"v":5.45},{"t":3.235,"v":5.05},{"t":3.295,"v":5.2},{"t":3.085,"v":5.05},{"t":3.145,"v":4.8},{"t":3.205,"v":5.25},{"t":3.265,"v":4.9},{"t":3.025,"v":5.65},{"t":3.335,"v":6.05},{"t":3.095,"v":6.65},{"t":3.155,"v":6.05},{"t":3.215,"v":6.7},{"t":3.185,"v":7.65},{"t":3.125,"v":8.05},{"t":3.245,"v":7.7},{"t":3.065,"v":7.15},{"t":3.275,"v":5.65},{"t":3.145,"v":5.5},
{"t":3.19,"v":9.67},{"t":3.2,"v":8.66},{"t":3.1,"v":8.58},{"t":3.29,"v":8.33},{"t":3.08,"v":8.26},{"t":3.05,"v":3.72},{"t":3.1,"v":3.68},{"t":3.25,"v":3.8},{"t":3.07,"v":4.18},{"t":3.25,"v":4.15},{"t":3.45,"v":6.2},{"t":3.55,"v":5.3},{"t":3.5,"v":4.9},{"t":3.43,"v":7.4},{"t":3.6,"v":6.8},
{"t":4.0,"v":7.75},{"t":4.08,"v":7.6},{"t":4.16,"v":7.55},{"t":4.24,"v":7.7},{"t":4.02,"v":7.35},{"t":4.1,"v":7.3},{"t":4.18,"v":7.25},{"t":4.26,"v":7.4},{"t":3.98,"v":7.05},{"t":4.06,"v":7.0},{"t":4.14,"v":6.95},{"t":4.22,"v":7.1},{"t":4.04,"v":6.8},{"t":4.12,"v":6.75},{"t":4.2,"v":6.7},{"t":4.28,"v":6.85},{"t":4.0,"v":6.5},{"t":4.08,"v":6.45},{"t":4.16,"v":6.4},{"t":4.24,"v":6.55},{"t":4.02,"v":6.2},{"t":4.1,"v":6.15},{"t":4.18,"v":6.1},{"t":4.26,"v":6.25},{"t":3.98,"v":5.95},{"t":4.06,"v":5.9},{"t":4.14,"v":5.85},{"t":4.22,"v":5.95},{"t":4.04,"v":5.65},{"t":4.12,"v":5.6},{"t":4.2,"v":5.55},{"t":4.28,"v":5.7},{"t":4.0,"v":5.4},{"t":4.08,"v":5.35},{"t":4.16,"v":5.3},{"t":4.24,"v":5.2},{"t":4.02,"v":5.1},{"t":4.1,"v":5.05},{"t":4.18,"v":5.0},{"t":4.06,"v":4.8},{"t":4.14,"v":4.75},{"t":4.22,"v":4.7},{"t":4.1,"v":4.55},{"t":4.18,"v":4.45},{"t":4.32,"v":6.6},{"t":4.34,"v":5.6},{"t":4.3,"v":7.3},{"t":4.12,"v":8.1},{"t":4.06,"v":7.9},{"t":4.2,"v":4.9},
{"t":4.035,"v":7.5},{"t":4.095,"v":7.2},{"t":4.155,"v":7.0},{"t":4.215,"v":7.3},{"t":4.275,"v":6.9},{"t":4.065,"v":6.85},{"t":4.125,"v":6.6},{"t":4.185,"v":6.8},{"t":4.245,"v":6.35},{"t":4.305,"v":6.55},{"t":4.045,"v":6.35},{"t":4.105,"v":6.25},{"t":4.165,"v":6.5},{"t":4.225,"v":6.0},{"t":4.285,"v":6.15},{"t":4.075,"v":5.8},{"t":4.135,"v":5.7},{"t":4.195,"v":5.95},{"t":4.255,"v":5.5},{"t":4.315,"v":5.4},{"t":4.055,"v":5.5},{"t":4.115,"v":5.25},{"t":4.175,"v":5.4},{"t":4.235,"v":5.1},{"t":4.295,"v":5.25},{"t":4.085,"v":4.95},{"t":4.145,"v":4.65},{"t":4.205,"v":5.15},{"t":4.265,"v":4.85},{"t":4.025,"v":5.6},{"t":4.335,"v":5.95},{"t":4.095,"v":6.6},{"t":4.155,"v":6.05},{"t":4.215,"v":6.6},{"t":4.185,"v":7.45},{"t":4.125,"v":7.85},{"t":4.245,"v":7.6},{"t":4.065,"v":7.1},{"t":4.275,"v":5.6},{"t":4.145,"v":5.5},
{"t":4.19,"v":8.84},{"t":4.08,"v":8.14},{"t":4.16,"v":3.68},{"t":4.18,"v":3.83},{"t":4.27,"v":4.27},{"t":4.45,"v":5.0},{"t":4.5,"v":6.5},{"t":4.45,"v":7.6},{"t":4.42,"v":6.9},{"t":3.9,"v":4.4},{"t":4.25,"v":4.2},
{"t":5.0,"v":7.9},{"t":5.08,"v":7.8},{"t":5.16,"v":7.75},{"t":5.24,"v":7.85},{"t":5.02,"v":7.5},{"t":5.1,"v":7.45},{"t":5.18,"v":7.4},{"t":5.26,"v":7.5},{"t":4.98,"v":7.2},{"t":5.06,"v":7.15},{"t":5.14,"v":7.1},{"t":5.22,"v":7.2},{"t":5.04,"v":6.9},{"t":5.12,"v":6.85},{"t":5.2,"v":6.8},{"t":5.28,"v":6.95},{"t":5.0,"v":6.6},{"t":5.08,"v":6.55},{"t":5.16,"v":6.5},{"t":5.24,"v":6.65},{"t":5.02,"v":6.3},{"t":5.1,"v":6.25},{"t":5.18,"v":6.2},{"t":5.26,"v":6.35},{"t":4.98,"v":6.0},{"t":5.06,"v":5.95},{"t":5.14,"v":5.9},{"t":5.22,"v":6.05},{"t":5.04,"v":5.7},{"t":5.12,"v":5.65},{"t":5.2,"v":5.6},{"t":5.28,"v":5.75},{"t":5.0,"v":5.45},{"t":5.08,"v":5.4},{"t":5.16,"v":5.35},{"t":5.24,"v":5.3},{"t":5.02,"v":5.15},{"t":5.1,"v":5.1},{"t":5.18,"v":5.05},{"t":5.06,"v":4.9},{"t":5.14,"v":4.85},{"t":5.22,"v":4.75},{"t":5.1,"v":4.6},{"t":5.18,"v":4.5},{"t":5.32,"v":6.4},{"t":5.34,"v":5.5},{"t":5.3,"v":7.1},{"t":5.12,"v":8.2},{"t":5.2,"v":8.05},{"t":5.06,"v":8.3},
{"t":5.035,"v":7.65},{"t":5.095,"v":7.35},{"t":5.155,"v":7.05},{"t":5.215,"v":7.4},{"t":5.275,"v":6.95},{"t":5.065,"v":6.95},{"t":5.125,"v":6.7},{"t":5.185,"v":6.9},{"t":5.245,"v":6.4},{"t":5.305,"v":6.6},{"t":5.045,"v":6.45},{"t":5.105,"v":6.35},{"t":5.165,"v":6.6},{"t":5.225,"v":6.05},{"t":5.285,"v":6.2},{"t":5.075,"v":5.85},{"t":5.135,"v":5.8},{"t":5.195,"v":6.0},{"t":5.255,"v":5.55},{"t":5.315,"v":5.5},{"t":5.055,"v":5.55},{"t":5.115,"v":5.3},{"t":5.175,"v":5.5},{"t":5.235,"v":5.15},{"t":5.295,"v":5.2},{"t":5.085,"v":5.0},{"t":5.145,"v":4.75},{"t":5.205,"v":5.25},{"t":5.265,"v":4.95},{"t":5.025,"v":5.75},{"t":5.335,"v":6.0},{"t":5.095,"v":6.7},{"t":5.155,"v":6.1},{"t":5.215,"v":6.7},{"t":5.185,"v":7.6},{"t":5.125,"v":8.0},{"t":5.245,"v":7.7},{"t":5.065,"v":7.1},{"t":5.275,"v":5.6},{"t":5.145,"v":5.55},
{"t":5.34,"v":9.33},{"t":5.08,"v":8.76},{"t":5.11,"v":8.68},{"t":5.12,"v":8.6},{"t":5.43,"v":3.49},{"t":5.16,"v":3.87},{"t":5.43,"v":3.96},{"t":5.45,"v":6.2},{"t":5.5,"v":5.0},{"t":5.4,"v":7.6},{"t":4.9,"v":4.5},
{"t":5.98,"v":7.4},{"t":6.06,"v":7.3},{"t":6.14,"v":7.35},{"t":6.22,"v":7.2},{"t":6.0,"v":7.05},{"t":6.08,"v":7.0},{"t":6.16,"v":6.95},{"t":6.24,"v":7.1},{"t":6.02,"v":6.8},{"t":6.1,"v":6.75},{"t":6.18,"v":6.7},{"t":6.26,"v":6.85},{"t":5.98,"v":6.5},{"t":6.06,"v":6.45},{"t":6.14,"v":6.4},{"t":6.22,"v":6.55},{"t":6.0,"v":6.25},{"t":6.08,"v":6.2},{"t":6.16,"v":6.15},{"t":6.24,"v":6.3},{"t":6.02,"v":6.0},{"t":6.1,"v":5.95},{"t":6.18,"v":5.9},{"t":6.26,"v":6.05},{"t":5.98,"v":5.75},{"t":6.06,"v":5.7},{"t":6.14,"v":5.65},{"t":6.22,"v":5.8},{"t":6.0,"v":5.5},{"t":6.08,"v":5.45},{"t":6.16,"v":5.4},{"t":6.24,"v":5.55},{"t":6.02,"v":5.25},{"t":6.1,"v":5.2},{"t":6.18,"v":5.15},{"t":6.06,"v":5.0},{"t":6.14,"v":4.95},{"t":6.22,"v":4.9},{"t":6.04,"v":4.75},{"t":6.12,"v":4.7},{"t":6.2,"v":4.6},{"t":6.1,"v":4.45},{"t":6.16,"v":4.3},{"t":6.3,"v":6.6},{"t":6.32,"v":5.9},{"t":6.28,"v":7.5},{"t":6.1,"v":7.7},{"t":6.05,"v":7.9},{"t":6.15,"v":8.0},{"t":6.3,"v":5.3},
{"t":6.035,"v":7.2},{"t":6.095,"v":7.1},{"t":6.155,"v":6.85},{"t":6.215,"v":7.0},{"t":6.275,"v":6.7},{"t":6.065,"v":6.6},{"t":6.125,"v":6.55},{"t":6.185,"v":6.6},{"t":6.245,"v":6.2},{"t":6.305,"v":6.4},{"t":6.045,"v":6.1},{"t":6.105,"v":6.05},{"t":6.165,"v":6.3},{"t":6.225,"v":5.85},{"t":6.285,"v":6.0},{"t":6.075,"v":5.6},{"t":6.135,"v":5.55},{"t":6.195,"v":5.75},{"t":6.255,"v":5.35},{"t":6.315,"v":5.2},{"t":6.055,"v":5.3},{"t":6.115,"v":5.1},{"t":6.175,"v":5.25},{"t":6.235,"v":4.95},{"t":6.295,"v":5.05},{"t":6.085,"v":4.85},{"t":6.145,"v":4.55},{"t":6.205,"v":5.0},{"t":6.265,"v":4.8},{"t":6.025,"v":5.4},{"t":6.335,"v":5.7},{"t":6.095,"v":6.45},{"t":6.155,"v":5.9},{"t":6.215,"v":6.45},{"t":6.185,"v":7.25},{"t":6.125,"v":7.6},{"t":6.245,"v":7.4},{"t":6.065,"v":6.9},{"t":6.275,"v":5.5},{"t":6.145,"v":5.35},
{"t":6.08,"v":8.89},{"t":6.19,"v":8.97},{"t":6.17,"v":8.69},{"t":5.99,"v":8.18},{"t":6.14,"v":3.55},{"t":6.15,"v":3.6},{"t":6.15,"v":3.87},{"t":6.16,"v":4.0},{"t":6.45,"v":6.4},{"t":6.55,"v":7.1},{"t":6.5,"v":5.5},{"t":5.9,"v":6.3},{"t":6.6,"v":6.9},
{"t":7.0,"v":7.1},{"t":7.08,"v":7.0},{"t":7.16,"v":7.05},{"t":7.24,"v":6.9},{"t":7.02,"v":6.75},{"t":7.1,"v":6.7},{"t":7.18,"v":6.65},{"t":7.26,"v":6.8},{"t":6.98,"v":6.45},{"t":7.06,"v":6.4},{"t":7.14,"v":6.35},{"t":7.22,"v":6.5},{"t":7.04,"v":6.15},{"t":7.12,"v":6.1},{"t":7.2,"v":6.05},{"t":7.28,"v":6.2},{"t":7.0,"v":5.85},{"t":7.08,"v":5.8},{"t":7.16,"v":5.75},{"t":7.24,"v":5.9},{"t":7.02,"v":5.55},{"t":7.1,"v":5.5},{"t":7.18,"v":5.45},{"t":7.06,"v":5.25},{"t":7.14,"v":5.2},{"t":7.22,"v":5.15},{"t":7.04,"v":4.95},{"t":7.12,"v":4.9},{"t":7.2,"v":4.8},{"t":7.1,"v":4.6},{"t":7.16,"v":4.4},{"t":7.3,"v":6.3},{"t":7.32,"v":5.6},{"t":7.14,"v":7.4},{"t":7.22,"v":7.6},{"t":7.08,"v":7.3},
{"t":7.035,"v":6.95},{"t":7.095,"v":6.55},{"t":7.155,"v":6.25},{"t":7.215,"v":6.6},{"t":7.275,"v":6.05},{"t":7.065,"v":6.0},{"t":7.125,"v":5.65},{"t":7.185,"v":5.95},{"t":7.245,"v":5.4},{"t":7.305,"v":5.7},{"t":7.045,"v":5.4},{"t":7.105,"v":5.05},{"t":7.165,"v":5.6},{"t":7.225,"v":5.0},{"t":7.055,"v":6.3},{"t":7.115,"v":6.85},{"t":7.175,"v":7.2},{"t":7.235,"v":6.2},{"t":7.085,"v":4.75},{"t":7.145,"v":5.35},
{"t":7.06,"v":9.07},{"t":7.04,"v":3.4},{"t":7.28,"v":3.68},{"t":7.08,"v":3.98},{"t":7.45,"v":7.5},{"t":7.5,"v":6.9},{"t":7.35,"v":7.8},{"t":7.83,"v":5.0},{"t":7.4,"v":4.5},{"t":7.6,"v":5.8},{"t":6.75,"v":6.3},{"t":6.8,"v":5.4}
],
"hdl": [
{"t":0,"v":0.14},{"t":0,"v":0.45},{"t":0,"v":0.55},{"t":0,"v":0.58},{"t":0,"v":0.61},{"t":0,"v":0.64},{"t":0,"v":0.67},{"t":0,"v":0.7},{"t":0,"v":0.73},{"t":0,"v":0.76},{"t":0,"v":0.79},{"t":0,"v":0.82},{"t":0,"v":0.85},{"t":0,"v":0.88},{"t":0,"v":0.91},{"t":0,"v":0.94},{"t":0,"v":0.97},{"t":0,"v":1.0},{"t":0,"v":1.03},{"t":0,"v":1.06},{"t":0,"v":1.09},{"t":0,"v":1.12},{"t":0,"v":1.15},{"t":0,"v":1.18},{"t":0,"v":1.21},{"t":0,"v":1.24},{"t":0,"v":1.27},{"t":0,"v":1.3},{"t":0,"v":1.33},{"t":0,"v":1.36},{"t":0,"v":1.39},{"t":0,"v":1.42},{"t":0,"v":1.45},{"t":0,"v":1.48},{"t":0,"v":1.51},{"t":0,"v":1.54},{"t":0,"v":1.57},{"t":0,"v":1.6},{"t":0,"v":1.63},{"t":0,"v":1.66},{"t":0,"v":1.69},{"t":0,"v":1.72},{"t":0,"v":1.75},{"t":0,"v":1.78},{"t":0,"v":1.81},{"t":0,"v":1.86},{"t":0,"v":1.89},{"t":0,"v":1.92},{"t":0,"v":2.02},{"t":0,"v":2.05},{"t":0,"v":2.08},{"t":0,"v":2.17},{"t":0,"v":2.2},
{"t":1.95,"v":1.72},{"t":2.05,"v":1.7},{"t":2.15,"v":1.68},{"t":1.98,"v":1.62},{"t":2.08,"v":1.6},{"t":2.18,"v":1.58},{"t":2.02,"v":1.52},{"t":2.12,"v":1.5},{"t":2.22,"v":1.48},{"t":1.95,"v":1.44},{"t":2.05,"v":1.42},{"t":2.15,"v":1.4},{"t":2.25,"v":1.43},{"t":1.98,"v":1.36},{"t":2.08,"v":1.34},{"t":2.18,"v":1.32},{"t":2.28,"v":1.35},{"t":2.02,"v":1.28},{"t":2.12,"v":1.26},{"t":2.22,"v":1.24},{"t":1.95,"v":1.21},{"t":2.05,"v":1.2},{"t":2.15,"v":1.18},{"t":2.25,"v":1.19},{"t":1.98,"v":1.14},{"t":2.08,"v":1.12},{"t":2.18,"v":1.1},{"t":2.28,"v":1.13},{"t":2.02,"v":1.07},{"t":2.12,"v":1.05},{"t":2.22,"v":1.03},{"t":1.95,"v":1.0},{"t":2.05,"v":0.99},{"t":2.15,"v":0.97},{"t":2.25,"v":0.98},{"t":1.98,"v":0.93},{"t":2.08,"v":0.92},{"t":2.18,"v":0.9},{"t":2.28,"v":0.91},{"t":2.02,"v":0.88},{"t":2.12,"v":0.87},{"t":2.22,"v":0.86},{"t":1.96,"v":0.84},{"t":2.06,"v":0.82},{"t":2.16,"v":0.8},{"t":2.26,"v":0.83},{"t":2.0,"v":0.77},{"t":2.1,"v":0.75},{"t":2.2,"v":0.73},{"t":2.04,"v":0.7},{"t":2.14,"v":0.68},{"t":2.24,"v":0.69},{"t":2.08,"v":0.64},{"t":2.18,"v":0.62},{"t":2.1,"v":0.9},{"t":2.2,"v":0.95},{"t":2.3,"v":1.0},{"t":2.0,"v":1.3},{"t":2.1,"v":1.55},{"t":2.32,"v":1.2},
{"t":1.975,"v":1.27},{"t":2.035,"v":1.23},{"t":2.095,"v":1.17},{"t":2.155,"v":1.15},{"t":2.215,"v":1.09},{"t":2.275,"v":1.06},{"t":1.985,"v":1.05},{"t":2.045,"v":1.02},{"t":2.105,"v":0.96},{"t":2.165,"v":0.94},{"t":2.225,"v":0.92},{"t":2.285,"v":0.88},{"t":1.995,"v":0.89},{"t":2.055,"v":0.86},{"t":2.115,"v":0.81},{"t":2.175,"v":0.78},{"t":2.235,"v":0.79},{"t":2.295,"v":0.76},{"t":2.005,"v":0.73},{"t":2.065,"v":0.72},{"t":2.125,"v":0.7},{"t":2.185,"v":0.67},{"t":2.245,"v":0.65},{"t":2.025,"v":0.95},{"t":2.085,"v":1.08},{"t":2.145,"v":1.29},{"t":2.205,"v":1.38},{"t":2.265,"v":1.25},{"t":2.035,"v":1.45},{"t":2.095,"v":1.62},{"t":2.155,"v":1.52},{"t":2.215,"v":1.65},{"t":2.075,"v":0.91},{"t":2.135,"v":0.89},{"t":2.195,"v":0.93},{"t":2.255,"v":0.9},{"t":2.045,"v":0.9},{"t":2.105,"v":1.13},{"t":2.165,"v":1.02},{"t":2.225,"v":1.16},
{"t":2.08,"v":3.0},{"t":2.08,"v":2.25},{"t":2.1,"v":2.2},{"t":2.05,"v":1.98},{"t":2.06,"v":1.95},{"t":2.07,"v":1.88},{"t":2.1,"v":1.85},{"t":2.14,"v":1.83},{"t":2.48,"v":1.78},{"t":1.85,"v":0.89},{"t":2.02,"v":0.58},{"t":2.9,"v":1.16},{"t":2.67,"v":1.14},{"t":2.63,"v":0.97},{"t":2.63,"v":0.9},{"t":2.4,"v":1.3},{"t":2.45,"v":1.08},{"t":2.4,"v":0.7},{"t":2.05,"v":0.6},
{"t":3.98,"v":1.74},{"t":4.08,"v":1.72},{"t":4.18,"v":1.7},{"t":4.02,"v":1.64},{"t":4.12,"v":1.62},{"t":4.22,"v":1.6},{"t":3.96,"v":1.55},{"t":4.06,"v":1.53},{"t":4.16,"v":1.51},{"t":4.26,"v":1.54},{"t":4.0,"v":1.46},{"t":4.1,"v":1.44},{"t":4.2,"v":1.42},{"t":4.3,"v":1.45},{"t":4.04,"v":1.37},{"t":4.14,"v":1.35},{"t":4.24,"v":1.33},{"t":3.98,"v":1.28},{"t":4.08,"v":1.26},{"t":4.18,"v":1.24},{"t":4.28,"v":1.27},{"t":4.02,"v":1.19},{"t":4.12,"v":1.17},{"t":4.22,"v":1.15},{"t":4.32,"v":1.18},{"t":3.96,"v":1.1},{"t":4.06,"v":1.08},{"t":4.16,"v":1.06},{"t":4.26,"v":1.09},{"t":4.0,"v":1.01},{"t":4.1,"v":0.99},{"t":4.2,"v":0.97},{"t":4.3,"v":1.0},{"t":4.04,"v":0.92},{"t":4.14,"v":0.9},{"t":4.24,"v":0.88},{"t":3.98,"v":0.84},{"t":4.08,"v":0.82},{"t":4.18,"v":0.8},{"t":4.28,"v":0.83},{"t":4.02,"v":0.76},{"t":4.12,"v":0.74},{"t":4.22,"v":0.72},{"t":4.06,"v":0.68},{"t":4.16,"v":0.66},{"t":4.1,"v":0.62},{"t":4.36,"v":1.2},{"t":4.38,"v":0.95},{"t":4.34,"v":1.5},{"t":4.14,"v":1.12},
{"t":3.975,"v":1.3},{"t":4.035,"v":1.24},{"t":4.095,"v":1.19},{"t":4.155,"v":1.14},{"t":4.215,"v":1.1},{"t":4.275,"v":1.04},{"t":3.985,"v":1.03},{"t":4.045,"v":0.98},{"t":4.105,"v":0.95},{"t":4.165,"v":0.93},{"t":4.225,"v":0.9},{"t":4.285,"v":0.86},{"t":3.995,"v":0.89},{"t":4.055,"v":0.85},{"t":4.115,"v":0.8},{"t":4.175,"v":0.78},{"t":4.235,"v":0.77},{"t":4.295,"v":0.74},{"t":4.005,"v":0.71},{"t":4.065,"v":0.7},{"t":4.125,"v":0.69},{"t":4.185,"v":0.66},{"t":4.245,"v":0.64},{"t":4.025,"v":0.96},{"t":4.085,"v":1.12},{"t":4.145,"v":1.3},{"t":4.205,"v":1.36},{"t":4.265,"v":1.22},{"t":4.035,"v":1.48},{"t":4.095,"v":1.6},{"t":4.155,"v":1.56},{"t":4.215,"v":1.48},{"t":4.075,"v":0.88},{"t":4.135,"v":0.85},{"t":4.195,"v":1.03},{"t":4.255,"v":0.96},{"t":4.045,"v":1.15},{"t":4.105,"v":1.07},{"t":4.165,"v":1.22},{"t":4.225,"v":1.28},
{"t":4.15,"v":2.59},{"t":4.09,"v":2.4},{"t":4.1,"v":2.32},{"t":4.02,"v":2.25},{"t":4.15,"v":2.25},{"t":4.1,"v":2.23},{"t":4.2,"v":2.13},{"t":4.15,"v":2.08},{"t":4.1,"v":1.95},{"t":4.09,"v":1.84},{"t":4.72,"v":1.68},{"t":4.41,"v":1.68},{"t":3.98,"v":0.59},{"t":4.11,"v":0.57},{"t":4.41,"v":0.57},{"t":4.54,"v":1.0},{"t":4.46,"v":1.09},{"t":4.45,"v":0.8},{"t":4.4,"v":1.4},
{"t":5.98,"v":1.6},{"t":6.08,"v":1.58},{"t":6.18,"v":1.56},{"t":6.02,"v":1.5},{"t":6.12,"v":1.48},{"t":6.22,"v":1.46},{"t":6.32,"v":1.49},{"t":5.96,"v":1.41},{"t":6.06,"v":1.39},{"t":6.16,"v":1.37},{"t":6.26,"v":1.4},{"t":6.0,"v":1.32},{"t":6.1,"v":1.3},{"t":6.2,"v":1.28},{"t":6.3,"v":1.31},{"t":6.04,"v":1.23},{"t":6.14,"v":1.21},{"t":6.24,"v":1.19},{"t":5.98,"v":1.14},{"t":6.08,"v":1.12},{"t":6.18,"v":1.1},{"t":6.28,"v":1.13},{"t":6.02,"v":1.05},{"t":6.12,"v":1.03},{"t":6.22,"v":1.01},{"t":6.32,"v":1.04},{"t":5.96,"v":0.96},{"t":6.06,"v":0.94},{"t":6.16,"v":0.92},{"t":6.26,"v":0.95},{"t":6.0,"v":0.87},{"t":6.1,"v":0.85},{"t":6.2,"v":0.83},{"t":6.3,"v":0.86},{"t":6.04,"v":0.78},{"t":6.14,"v":0.76},{"t":6.24,"v":0.74},{"t":5.98,"v":0.7},{"t":6.08,"v":0.68},{"t":6.18,"v":0.66},{"t":6.28,"v":0.69},{"t":6.02,"v":0.62},{"t":6.12,"v":0.6},{"t":6.22,"v":0.58},{"t":6.16,"v":0.55},{"t":6.36,"v":1.1},{"t":6.38,"v":0.8},{"t":6.34,"v":1.35},{"t":6.1,"v":1.7},{"t":6.2,"v":1.25},
{"t":5.975,"v":1.25},{"t":6.035,"v":1.18},{"t":6.095,"v":1.15},{"t":6.155,"v":1.08},{"t":6.215,"v":1.06},{"t":6.275,"v":1.0},{"t":5.985,"v":1.0},{"t":6.045,"v":0.97},{"t":6.105,"v":0.9},{"t":6.165,"v":0.88},{"t":6.225,"v":0.87},{"t":6.285,"v":0.82},{"t":5.995,"v":0.84},{"t":6.055,"v":0.8},{"t":6.115,"v":0.78},{"t":6.175,"v":0.74},{"t":6.235,"v":0.72},{"t":6.295,"v":0.71},{"t":6.005,"v":0.66},{"t":6.065,"v":0.65},{"t":6.125,"v":0.64},{"t":6.185,"v":0.62},{"t":6.245,"v":0.6},{"t":6.025,"v":0.92},{"t":6.085,"v":1.06},{"t":6.145,"v":1.26},{"t":6.205,"v":1.33},{"t":6.265,"v":1.18},{"t":6.035,"v":1.42},{"t":6.095,"v":1.52},{"t":6.155,"v":1.44},{"t":6.215,"v":1.38},{"t":6.075,"v":0.82},{"t":6.135,"v":0.8},{"t":6.195,"v":0.97},{"t":6.255,"v":0.9},{"t":6.045,"v":1.1},{"t":6.105,"v":1.0},{"t":6.165,"v":1.16},{"t":6.225,"v":1.22},
{"t":6.11,"v":2.29},{"t":6.27,"v":2.16},{"t":6.36,"v":2.09},{"t":6.21,"v":2.03},{"t":6.04,"v":1.91},{"t":6.76,"v":1.65},{"t":6.63,"v":1.46},{"t":6.96,"v":1.34},{"t":6.15,"v":0.34},{"t":6.23,"v":0.41},{"t":6.15,"v":0.41},{"t":6.55,"v":0.52},{"t":6.82,"v":1.13},{"t":6.7,"v":0.93},{"t":6.9,"v":0.93},{"t":6.63,"v":0.89},{"t":6.64,"v":0.76},{"t":6.5,"v":1.2},{"t":6.08,"v":1.85},{"t":6.15,"v":1.78}
]
},
"hconcat": [
{
 "width": 330, "height": 416,
 "title": {"text": "Systolic blood pressure"},
 "layer": [
  {"data": {"name": "sbp"}, "mark": {"type": "point", "filled": true, "size": 20, "color": "#1a476f", "opacity": 1},
   "encoding": {
    "x": {"field": "t", "type": "quantitative", "scale": {"domain": [-0.16, 8.46], "nice": false, "zero": false}, "axis": {"values": [0,2,4,6,8], "title": "Time in study (years)", "titlePadding": 8, "labelPadding": 3}},
    "y": {"field": "v", "type": "quantitative", "scale": {"domain": [87.6, 207.8], "nice": false, "zero": false}, "axis": {"orient": "left", "values": [100,150,200], "grid": true, "gridColor": "#e3ecee", "labelAngle": -90, "labelAlign": "center", "labelBaseline": "bottom", "labelPadding": 3, "title": "Repeat measurements of systolic blood pressure (mm Hg)", "titlePadding": 6}}
   }},
  {"data": {"name": "curves"}, "mark": {"type": "line", "strokeWidth": 1},
   "encoding": {
    "x": {"field": "t", "type": "quantitative"},
    "y": {"field": "p", "type": "quantitative", "scale": {"domain": [-1.5, 101.7], "nice": false, "zero": false}, "axis": {"orient": "right", "values": [0,20,40,60,80,100], "labelAngle": -90, "labelAlign": "center", "labelBaseline": "top", "labelPadding": 2, "title": "Cumulative percentage", "titleAngle": -90, "titleBaseline": "top", "titlePadding": 11}},
    "color": {"field": "s", "type": "nominal", "scale": {"domain": ["CVD event or censoring, combined", "CVD events only", "Censored events only"], "range": ["#ff0000", "#0000ff", "#008000"]}}
   }}
 ],
 "resolve": {"scale": {"y": "independent"}}
},
{
 "width": 330, "height": 416,
 "title": {"text": "Total cholesterol"},
 "layer": [
  {"data": {"name": "tc"}, "mark": {"type": "point", "filled": true, "size": 20, "color": "#1a476f", "opacity": 1},
   "encoding": {
    "x": {"field": "t", "type": "quantitative", "scale": {"domain": [-0.16, 8.46], "nice": false, "zero": false}, "axis": {"values": [0,2,4,6,8], "title": "Time in study (years)", "titlePadding": 8, "labelPadding": 3}},
    "y": {"field": "v", "type": "quantitative", "scale": {"domain": [1.875, 10.125], "nice": false, "zero": false}, "axis": {"orient": "left", "values": [2,4,6,8,10], "grid": true, "gridColor": "#e3ecee", "labelAngle": -90, "labelAlign": "center", "labelBaseline": "bottom", "labelPadding": 3, "title": "Repeat measurements of total cholestrol (mmol/L)", "titlePadding": 6}}
   }},
  {"data": {"name": "curves"}, "mark": {"type": "line", "strokeWidth": 1},
   "encoding": {
    "x": {"field": "t", "type": "quantitative"},
    "y": {"field": "p", "type": "quantitative", "scale": {"domain": [-1.5, 101.7], "nice": false, "zero": false}, "axis": {"orient": "right", "values": [0,20,40,60,80,100], "labelAngle": -90, "labelAlign": "center", "labelBaseline": "top", "labelPadding": 2, "title": "Cumulative percentage", "titleAngle": -90, "titleBaseline": "top", "titlePadding": 11}},
    "color": {"field": "s", "type": "nominal", "scale": {"domain": ["CVD event or censoring, combined", "CVD events only", "Censored events only"], "range": ["#ff0000", "#0000ff", "#008000"]}}
   }}
 ],
 "resolve": {"scale": {"y": "independent"}}
},
{
 "width": 330, "height": 416,
 "title": {"text": "High-density cholesterol"},
 "layer": [
  {"data": {"name": "hdl"}, "mark": {"type": "point", "filled": true, "size": 20, "color": "#1a476f", "opacity": 1},
   "encoding": {
    "x": {"field": "t", "type": "quantitative", "scale": {"domain": [-0.16, 8.46], "nice": false, "zero": false}, "axis": {"values": [0,2,4,6,8], "title": "Time in study (years)", "titlePadding": 8, "labelPadding": 3}},
    "y": {"field": "v", "type": "quantitative", "scale": {"domain": [-0.047, 3.047], "nice": false, "zero": false}, "axis": {"orient": "left", "values": [0,1,2,3], "grid": true, "gridColor": "#e3ecee", "labelAngle": -90, "labelAlign": "center", "labelBaseline": "bottom", "labelPadding": 3, "title": "Repeat measurements of HDL cholestrol (mmol/L)", "titlePadding": 6}}
   }},
  {"data": {"name": "curves"}, "mark": {"type": "line", "strokeWidth": 1},
   "encoding": {
    "x": {"field": "t", "type": "quantitative"},
    "y": {"field": "p", "type": "quantitative", "scale": {"domain": [-1.5, 101.7], "nice": false, "zero": false}, "axis": {"orient": "right", "values": [0,20,40,60,80,100], "labelAngle": -90, "labelAlign": "center", "labelBaseline": "top", "labelPadding": 2, "title": "Cumulative percentage", "titleAngle": -90, "titleBaseline": "top", "titlePadding": 11}},
    "color": {"field": "s", "type": "nominal", "scale": {"domain": ["CVD event or censoring, combined", "CVD events only", "Censored events only"], "range": ["#ff0000", "#0000ff", "#008000"]}}
   }}
 ],
 "resolve": {"scale": {"y": "independent"}}
}
],
"resolve": {"scale": {"color": "independent"}, "legend": {"color": "independent"}}
}
